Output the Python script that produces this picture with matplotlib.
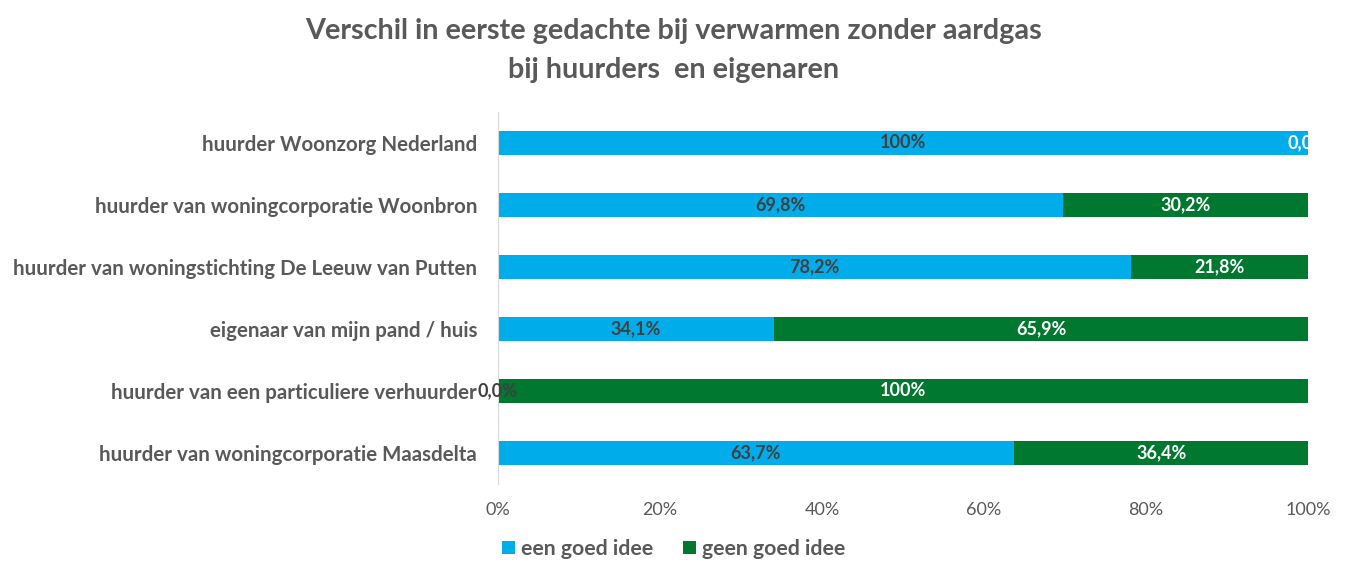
import matplotlib
matplotlib.use('Agg')
import matplotlib.pyplot as plt
import numpy as np

plt.rcParams['font.family'] = ['Lato', 'DejaVu Sans']

# categories from top to bottom
categories = ["huurder Woonzorg Nederland",
              "huurder van woningcorporatie Woonbron",
              "huurder van woningstichting De Leeuw van Putten",
              "eigenaar van mijn pand / huis",
              "huurder van een particuliere verhuurder",
              "huurder van woningcorporatie Maasdelta"]
goed = [100.0, 69.8, 78.2, 34.1, 0.0, 63.7]
geen_goed = [0.0, 30.2, 21.8, 65.9, 100.0, 36.4]
goed_labels = ["100%", "69,8%", "78,2%", "34,1%", "0,0%", "63,7%"]
geen_labels = ["0,0%", "30,2%", "21,8%", "65,9%", "100%", "36,4%"]
series_names = ["een goed idee", "geen goed idee"]

blue = "#00ADEA"
green = "#00782F"
grey = "#595959"

fig = plt.figure(figsize=(13.47, 5.62), dpi=100)
ax = fig.add_axes([498/1347, 1 - 484/562, 810/1347, 372/562])

y = np.arange(len(categories))[::-1]
g = np.array(goed) / 100
n = np.array(geen_goed) / 100
b1 = ax.barh(y, g, height=0.39, color=blue, label=series_names[0])
b2 = ax.barh(y, n, left=g, height=0.39, color=green, label=series_names[1])

for i in range(len(categories)):
    ax.text(g[i] / 2, y[i], goed_labels[i], ha='center', va='center',
            fontsize=13, fontweight='bold', color='#404040')
    ax.text(g[i] + n[i] / 2, y[i], geen_labels[i], ha='center', va='center',
            fontsize=13, fontweight='bold', color='white', clip_on=True)

ax.set_xlim(0, 1)
ax.set_ylim(-0.5, len(categories) - 0.5)
ax.set_yticks(y)
ax.set_yticklabels(categories, fontsize=14.8, fontweight='bold', color=grey)
ax.set_xticks(np.linspace(0, 1, 6))
ax.set_xticklabels(["0%", "20%", "40%", "60%", "80%", "100%"], fontsize=13, color=grey)
ax.tick_params(length=0)
ax.tick_params(axis='x', pad=13)
ax.tick_params(axis='y', pad=15)
for s in ['top', 'right', 'bottom']:
    ax.spines[s].set_visible(False)
ax.spines['left'].set_color('#D9D9D9')

fig.text(0.5, 0.945, "Verschil in eerste gedachte bij verwarmen zonder aardgas",
         ha='center', va='center', fontsize=20.7, fontweight='bold', color=grey)
fig.text(0.5, 0.875, "bij huurders  en eigenaren",
         ha='center', va='center', fontsize=20.7, fontweight='bold', color=grey)

leg = fig.legend(handles=[b1, b2], loc='center', bbox_to_anchor=(0.5, 1 - 549/562),
                 ncol=2, frameon=False, fontsize=15.3, handlelength=0.6, handleheight=0.6,
                 handletextpad=0.3, columnspacing=1.4)
for t in leg.get_texts():
    t.set_color(grey)
    t.set_fontweight('bold')

fig.savefig("out.png", dpi=100)
